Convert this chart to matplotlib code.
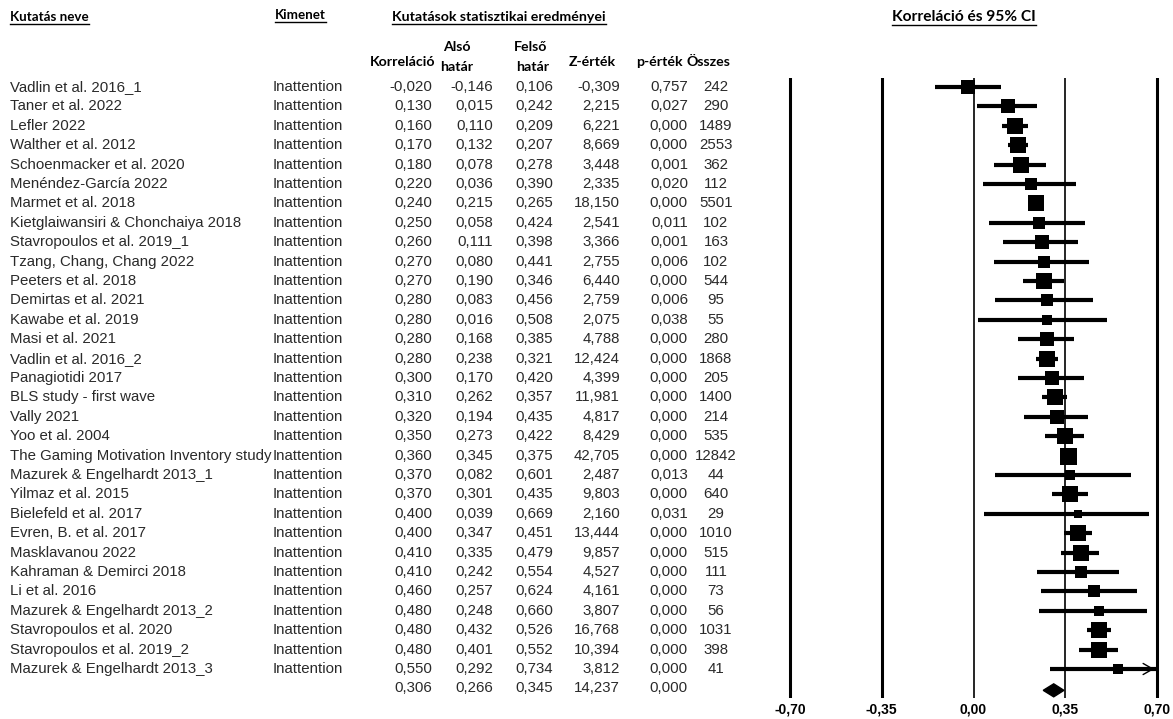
#!/usr/bin/env python3

import numpy as np
import matplotlib
matplotlib.use("Agg")
import matplotlib.pyplot as plt
from matplotlib.lines import Line2D
from matplotlib.patches import Polygon

studies = [
    "Vadlin et al. 2016_1", "Taner et al. 2022", "Lefler 2022", "Walther et al. 2012",
    "Schoenmacker et al. 2020", "Menéndez-García 2022", "Marmet et al. 2018",
    "Kietglaiwansiri & Chonchaiya 2018", "Stavropoulos et al. 2019_1",
    "Tzang, Chang, Chang 2022", "Peeters et al. 2018", "Demirtas et al. 2021",
    "Kawabe et al. 2019", "Masi et al. 2021", "Vadlin et al. 2016_2", "Panagiotidi 2017",
    "BLS study - first wave", "Vally 2021", "Yoo et al. 2004",
    "The Gaming Motivation Inventory study", "Mazurek & Engelhardt 2013_1",
    "Yilmaz et al. 2015", "Bielefeld et al. 2017", "Evren, B. et al. 2017",
    "Masklavanou 2022", "Kahraman & Demirci 2018", "Li et al. 2016",
    "Mazurek & Engelhardt 2013_2", "Stavropoulos et al. 2020",
    "Stavropoulos et al. 2019_2", "Mazurek & Engelhardt 2013_3",
]
outcomes = ["Inattention"] * len(studies)
corr = [-0.020, 0.130, 0.160, 0.170, 0.180, 0.220, 0.240, 0.250, 0.260, 0.270, 0.270,
        0.280, 0.280, 0.280, 0.280, 0.300, 0.310, 0.320, 0.350, 0.360, 0.370, 0.370,
        0.400, 0.400, 0.410, 0.410, 0.460, 0.480, 0.480, 0.480, 0.550]
lower = [-0.146, 0.015, 0.110, 0.132, 0.078, 0.036, 0.215, 0.058, 0.111, 0.080, 0.190,
         0.083, 0.016, 0.168, 0.238, 0.170, 0.262, 0.194, 0.273, 0.345, 0.082, 0.301,
         0.039, 0.347, 0.335, 0.242, 0.257, 0.248, 0.432, 0.401, 0.292]
upper = [0.106, 0.242, 0.209, 0.207, 0.278, 0.390, 0.265, 0.424, 0.398, 0.441, 0.346,
         0.456, 0.508, 0.385, 0.321, 0.420, 0.357, 0.435, 0.422, 0.375, 0.601, 0.435,
         0.669, 0.451, 0.479, 0.554, 0.624, 0.660, 0.526, 0.552, 0.734]
zval = [-0.309, 2.215, 6.221, 8.669, 3.448, 2.335, 18.150, 2.541, 3.366, 2.755, 6.440,
        2.759, 2.075, 4.788, 12.424, 4.399, 11.981, 4.817, 8.429, 42.705, 2.487, 9.803,
        2.160, 13.444, 9.857, 4.527, 4.161, 3.807, 16.768, 10.394, 3.812]
pval = [0.757, 0.027, 0.000, 0.000, 0.001, 0.020, 0.000, 0.011, 0.001, 0.006, 0.000,
        0.006, 0.038, 0.000, 0.000, 0.000, 0.000, 0.000, 0.000, 0.000, 0.013, 0.000,
        0.031, 0.000, 0.000, 0.000, 0.000, 0.000, 0.000, 0.000, 0.000]
total = [242, 290, 1489, 2553, 362, 112, 5501, 102, 163, 102, 544, 95, 55, 280, 1868,
         205, 1400, 214, 535, 12842, 44, 640, 29, 1010, 515, 111, 73, 56, 1031, 398, 41]

pooled = {"corr": 0.306, "lower": 0.266, "upper": 0.345, "z": 14.237, "p": 0.000}

ticks = [-0.70, -0.35, 0.00, 0.35, 0.70]

W, H = 1173, 719
TXT = "#2a2a2a"
VAL_FONT = ["Liberation Sans", "DejaVu Sans"]
HEAD_FONT = ["Lato", "DejaVu Sans"]


def fmt(v, nd=3):
    return "{:.{}f}".format(v, nd).replace(".", ",")


def random_effect_weights(r, n):
    # DerSimonian-Laird weights on Fisher z scale, used for box sizes
    z = np.arctanh(np.asarray(r))
    v = 1.0 / (np.asarray(n) - 3.0)
    w = 1.0 / v
    zbar = np.sum(w * z) / np.sum(w)
    q = np.sum(w * (z - zbar) ** 2)
    c = np.sum(w) - np.sum(w ** 2) / np.sum(w)
    tau2 = max(0.0, (q - (len(z) - 1)) / c)
    return 1.0 / (v + tau2)


fig = plt.figure(figsize=(W / 100, H / 100), dpi=100)
fig.patch.set_facecolor("white")

# row i sits at pixel 87 + 19.4*i from the top
row_px = 19.4
top_px, bot_px = 78, 698
ylim = ((bot_px - 87) / row_px, (top_px - 87) / row_px)
ax_bottom = 1 - bot_px / H
ax_height = (bot_px - top_px) / H

# table axes: x in pixels
tab = fig.add_axes([0, ax_bottom, 770 / W, ax_height])
tab.set_xlim(0, 770)
tab.set_ylim(*ylim)
tab.axis("off")

# forest axes
scale = (1157 - 790) / 1.4
fx0, fx1 = 770, 1170
fst = fig.add_axes([fx0 / W, ax_bottom, (fx1 - fx0) / W, ax_height])
fst.set_xlim(-0.70 - (790 - fx0) / scale, 0.70 + (fx1 - 1157) / scale)
fst.set_ylim(*ylim)
for s in fst.spines.values():
    s.set_visible(False)
fst.set_yticks([])
fst.set_xticks(ticks, [fmt(t, 2) for t in ticks])
fst.tick_params(axis="x", length=0, pad=3)
for lbl in fst.get_xticklabels():
    lbl.set_fontfamily(VAL_FONT)
    lbl.set_fontweight("bold")
    lbl.set_fontsize(10)

for t in ticks:
    thin = t in (0.0, 0.35)
    fst.axvline(t, color="black", lw=1.2 if thin else 2.2, zorder=1)

# study rows
fs = 10.8
cols = [(432, "right"), (493, "right"), (553, "right"), (620, "right"), (688, "right")]
for i, name in enumerate(studies):
    tab.text(10, i, name, ha="left", va="center", fontsize=fs, color=TXT, family=VAL_FONT)
    tab.text(273, i, outcomes[i], ha="left", va="center", fontsize=fs, color=TXT, family=VAL_FONT)
    for (x, ha), v in zip(cols, [corr[i], lower[i], upper[i], zval[i], pval[i]]):
        tab.text(x, i, fmt(v), ha=ha, va="center", fontsize=fs, color=TXT, family=VAL_FONT)
    tab.text(716, i, str(total[i]), ha="center", va="center", fontsize=fs, color=TXT, family=VAL_FONT)

ys = len(studies)
for (x, ha), v in zip(cols, [pooled["corr"], pooled["lower"], pooled["upper"],
                             pooled["z"], pooled["p"]]):
    tab.text(x, ys, fmt(v), ha=ha, va="center", fontsize=fs, color=TXT, family=VAL_FONT)

# CI lines and weight boxes
wts = random_effect_weights(corr, total)
box_px = 17.0 * np.sqrt(wts / wts.max())
xmax = ticks[-1]
for i in range(len(studies)):
    hi = min(upper[i], xmax)
    fst.plot([lower[i], hi], [i, i], color="black", lw=3, solid_capstyle="butt", zorder=2)
    if upper[i] > xmax:
        fst.annotate("", xy=(xmax, i), xytext=(xmax - 0.05, i),
                     arrowprops=dict(arrowstyle="->,head_length=0.7,head_width=0.4",
                                     color="black", lw=1), zorder=3)
    fst.scatter([corr[i]], [i], marker="s", s=(box_px[i] * 0.72) ** 2,
                color="black", linewidths=0, zorder=4)

# pooled diamond
h = 6.5 / row_px
dy = ys + 0.1
fst.add_patch(Polygon([(pooled["lower"], dy), (pooled["corr"], dy - h),
                       (pooled["upper"], dy), (pooled["corr"], dy + h)],
                      closed=True, color="black", zorder=4))

underlined = []


def fig_text(x, y, s, size, ha="left", underline=False):
    t = fig.text(x / W, 1 - y / H, s, ha=ha, va="center", fontsize=size,
                 fontweight="bold", family=HEAD_FONT, color="black")
    if underline:
        underlined.append(t)
    return t


# headers
fig_text(10, 17, "Kutatás neve", 9.6, underline=True)
fig_text(275, 15, "Kimenet", 9.6, underline=True)
fig_text(392, 17, "Kutatások statisztikai eredményei", 10.2, underline=True)
fig_text(964, 17, "Korreláció és 95% CI", 11.2, ha="center", underline=True)

hs = 10.2
fig_text(403, 62, "Korreláció", hs, ha="center")
fig_text(457, 47, "Alsó", hs, ha="center")
fig_text(457, 67, "határ", hs, ha="center")
fig_text(531, 47, "Felső", hs, ha="center")
fig_text(533, 67, "határ", hs, ha="center")
fig_text(592, 62, "Z-érték", hs, ha="center")
fig_text(659, 62, "p-érték", hs, ha="center")
fig_text(708, 62, "Összes", hs, ha="center")

fig.canvas.draw()
renderer = fig.canvas.get_renderer()
for t in underlined:
    bb = t.get_window_extent(renderer)
    y = bb.y0 - 1
    fig.add_artist(Line2D([bb.x0 / W, bb.x1 / W], [y / H, y / H],
                          transform=fig.transFigure, color="black", lw=1))

fig.savefig("out.png", dpi=100, facecolor="white")
